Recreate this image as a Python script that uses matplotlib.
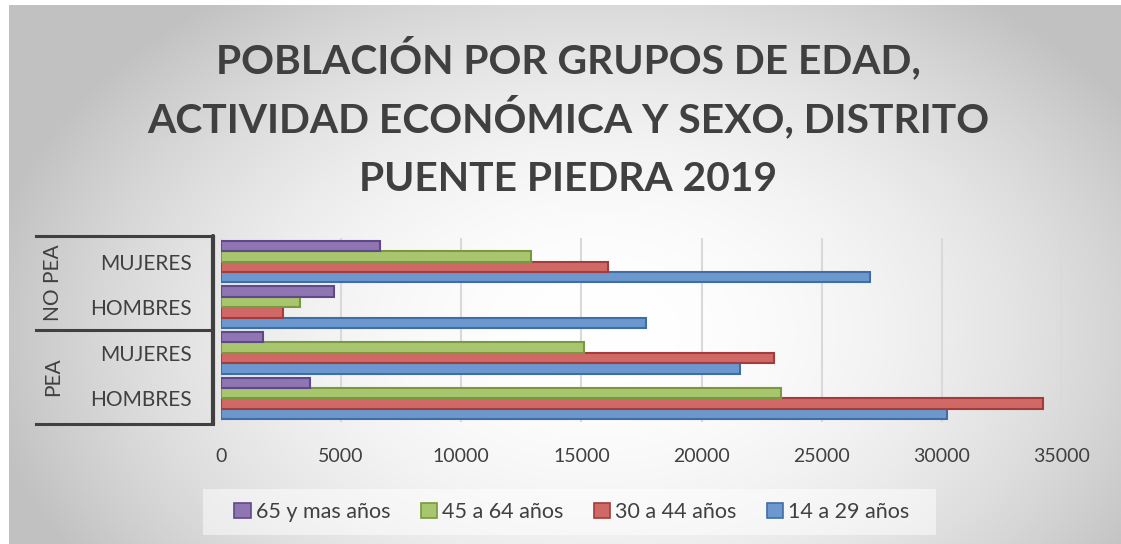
import matplotlib
matplotlib.use("Agg")
import matplotlib.pyplot as plt
import numpy as np
from matplotlib.patches import Patch, Rectangle
from matplotlib.lines import Line2D

plt.rcParams['font.family'] = ['Lato', 'DejaVu Sans']

# data (bottom to top as drawn)
sexes = ["HOMBRES", "MUJERES", "HOMBRES", "MUJERES"]
groups = ["PEA", "NO PEA"]
v14_29 = [30200, 21600, 17700, 27000]
v30_44 = [34200, 23000, 2600, 16100]
v45_64 = [23300, 15100, 3300, 12900]
v65 = [3700, 1750, 4700, 6600]
series_names = ["14 a 29 años", "30 a 44 años", "45 a 64 años", "65 y mas años"]
x_ticks = [0, 5000, 10000, 15000, 20000, 25000, 30000, 35000]
title_lines = ["POBLACIÓN POR GRUPOS DE EDAD,",
               "ACTIVIDAD ECONÓMICA Y SEXO, DISTRITO",
               "PUENTE PIEDRA 2019"]

faces = ['#6d98cf', '#d06866', '#a7c66d', '#8f75b2']
edges = ['#3f6ea6', '#a33c3a', '#79983f', '#60498a']

W, H = 1121, 544
fig = plt.figure(figsize=(W / 100, H / 100), dpi=100)

# gradient background
bg = fig.add_axes([0, 0, 1, 1], zorder=-10)
bg.set_axis_off()
yy, xx = np.mgrid[0:H, 0:W]
d = np.sqrt(((xx - 600) / 620.0) ** 2 + ((yy - 330) / 420.0) ** 2)
g = 1.0 - 0.24 * np.clip(d, 0, 1) ** 2
img = np.dstack([g, g, g])
img[:5, :, :] = 1.0
img[:, :9, :] = 1.0
bg.imshow(img, extent=[0, W, H, 0], aspect='auto', interpolation='bilinear')
bg.set_xlim(0, W)
bg.set_ylim(H, 0)
bg.add_patch(Rectangle((203, 489), 733, 46, facecolor='white', alpha=0.5,
                       edgecolor='none'))


def fx(px):
    return px / W


def fy(py):
    return 1 - py / H


ax_l, ax_r, ax_t, ax_b = 221, 1062, 238, 422
ax = fig.add_axes([fx(ax_l), fy(ax_b), fx(ax_r - ax_l), (ax_b - ax_t) / H])
ax.patch.set_alpha(0)

y = np.arange(len(sexes))
h = 0.228
all_vals = [v14_29, v30_44, v45_64, v65]
for i, vals in enumerate(all_vals):
    ax.barh(y + (i - 1.5) * h, vals, height=h, color=faces[i],
            edgecolor=edges[i], linewidth=1.5, zorder=3)

ax.set_xlim(0, 35000)
ax.set_ylim(-0.52, 3.52)
ax.set_xticks(x_ticks)
ax.set_xticklabels([str(t) for t in x_ticks])
ax.grid(axis='x', color='#d9d9d9', linewidth=1.5, zorder=0)
ax.set_yticks(y)
ax.set_yticklabels(sexes)
ax.tick_params(axis='both', length=0, labelsize=14, labelcolor='#404040')
ax.tick_params(axis='y', labelsize=15)
ax.tick_params(axis='x', pad=19)
ax.tick_params(axis='y', pad=21)
for s in ax.spines.values():
    s.set_visible(False)

# category bracket
dark = '#404040'
fig.add_artist(Line2D([fx(213), fx(213)], [fy(236), fy(424)], color=dark, lw=3,
                      solid_capstyle='round'))
for py in [236, 330, 424]:
    fig.add_artist(Line2D([fx(36), fx(213)], [fy(py), fy(py)], color=dark, lw=2.2))
fig.text(fx(53), fy(283), "NO PEA", rotation=90, ha='center', va='center',
         fontsize=15, color=dark)
fig.text(fx(53), fy(377), "PEA", rotation=90, ha='center', va='center',
         fontsize=15, color=dark)

# title, one line at a time (baselines)
for line, base in zip(title_lines, [73, 132, 191]):
    fig.text(fx(568), fy(base), line, ha='center', va='baseline',
             fontsize=29.3, fontweight='bold', color=dark)

handles = [Patch(facecolor=faces[i], edgecolor=edges[i], linewidth=1.2)
           for i in range(4)][::-1]
fig.legend(handles, series_names[::-1], loc='center', ncol=4,
           bbox_to_anchor=(fx(572), fy(512)), frameon=False, fontsize=15.5,
           handlelength=0.75, handleheight=0.75, handletextpad=0.25,
           columnspacing=1.4, labelcolor='#404040')

fig.savefig("out.png", dpi=100)
